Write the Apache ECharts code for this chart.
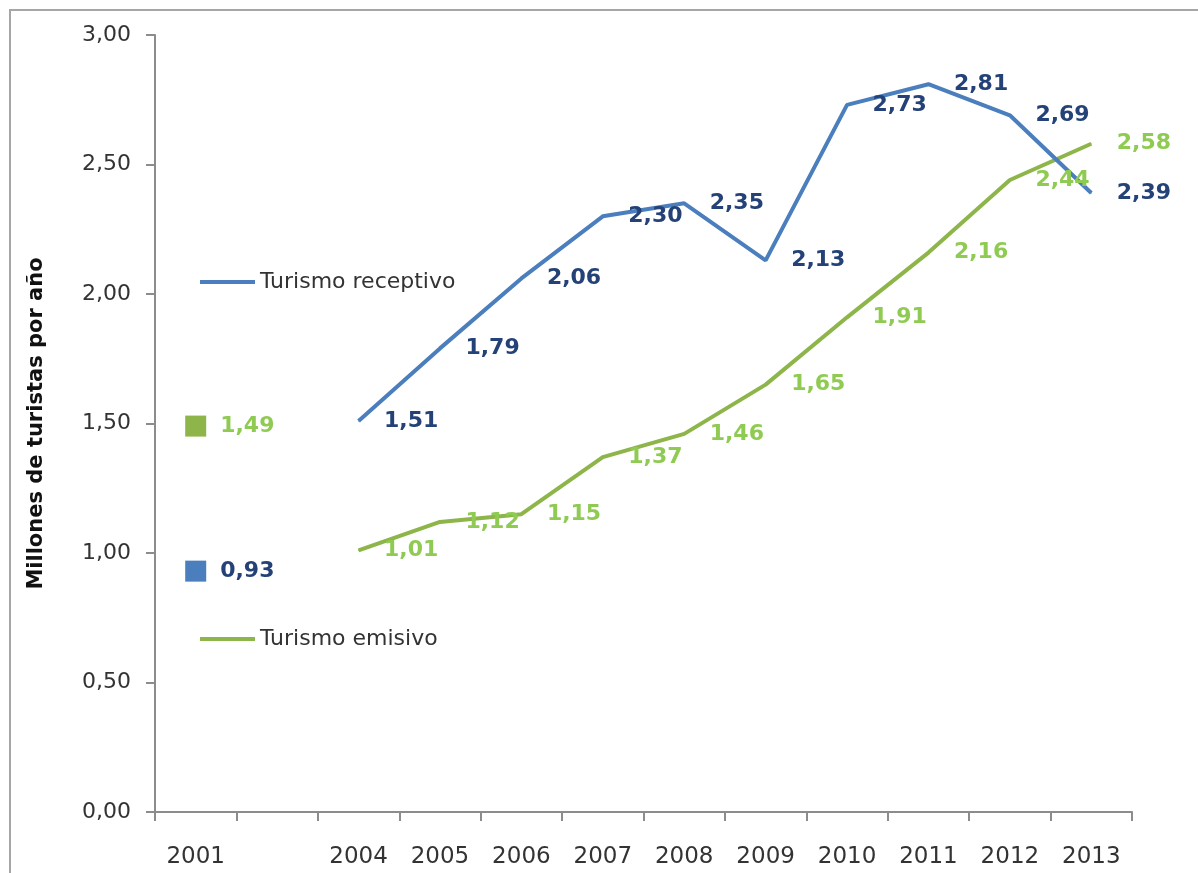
<!DOCTYPE html>
<html>
<head>
<meta charset="utf-8">
<script src="https://cdn.jsdelivr.net/npm/echarts@6/dist/echarts.min.js"></script>
<style>html,body{margin:0;padding:0;background:#fff}#c{width:1198px;height:873px}</style>
</head>
<body>
<div id="c"></div>
<script>
const categories = ['2001', '', '2004', '2005', '2006', '2007', '2008', '2009', '2010', '2011', '2012', '2013'];
const receptivo = [0.93, null, 1.51, 1.79, 2.06, 2.30, 2.35, 2.13, 2.73, 2.81, 2.69, 2.39];
const emisivo = [1.49, null, 1.01, 1.12, 1.15, 1.37, 1.46, 1.65, 1.91, 2.16, 2.44, 2.58];
const yTicks = { min: 0, max: 3, interval: 0.5 };
const seriesNames = ['Turismo receptivo', 'Turismo emisivo'];
const yName = 'Millones de turistas por año';

const FONT = "'DejaVu Sans', 'Open Sans', sans-serif";
const fmt = v => Number(v).toFixed(2).replace('.', ',');

function buildData(arr) {
  return arr.map((v, i) => {
    if (i === 0 && v != null) {
      return { value: v, symbol: 'rect', symbolSize: 21, label: { distance: 14 } };
    }
    return v;
  });
}

function makeSeries(name, arr, lineColor, labelColor) {
  return {
    name: name,
    type: 'line',
    data: buildData(arr),
    connectNulls: false,
    symbol: 'circle',
    symbolSize: 1,
    showSymbol: true,
    itemStyle: { color: lineColor },
    lineStyle: { color: lineColor, width: 4 },
    label: {
      show: true,
      position: 'right',
      distance: 25,
      color: labelColor,
      fontFamily: FONT,
      fontWeight: 'bold',
      fontSize: 22,
      formatter: p => fmt(p.value)
    },
    animation: false
  };
}

const chart = echarts.init(document.getElementById('c'));
chart.setOption({
  animation: false,
  graphic: [{
    type: 'rect',
    shape: { x: 10, y: 10, width: 1400, height: 1000 },
    style: { fill: 'none', stroke: '#a6a6a6', lineWidth: 2 },
    silent: true,
    z: -10
  }],
  grid: { left: 155, right: 66, top: 35, bottom: 61 },
  legend: [
    {
      data: [seriesNames[0]],
      left: 195, top: 266,
      icon: 'rect', itemWidth: 55, itemHeight: 4, itemGap: 5,
      textStyle: { fontFamily: FONT, fontSize: 22, color: '#333' },
      selectedMode: false
    },
    {
      data: [seriesNames[1]],
      left: 195, top: 623,
      icon: 'rect', itemWidth: 55, itemHeight: 4, itemGap: 5,
      textStyle: { fontFamily: FONT, fontSize: 22, color: '#333' },
      selectedMode: false
    }
  ],
  xAxis: {
    type: 'category',
    data: categories,
    boundaryGap: true,
    axisLine: { lineStyle: { color: '#8c8c8c', width: 2 } },
    axisTick: { show: true, length: 9, inside: false, lineStyle: { color: '#8c8c8c', width: 2 } },
    axisLabel: { interval: 0, fontFamily: FONT, fontSize: 23, color: '#333', margin: 34 },
    splitLine: { show: false }
  },
  yAxis: {
    type: 'value',
    min: yTicks.min, max: yTicks.max, interval: yTicks.interval,
    name: yName,
    nameLocation: 'middle',
    nameGap: 108,
    nameRotate: 90,
    nameTextStyle: { fontFamily: FONT, fontSize: 21, fontWeight: 'bold', color: '#111' },
    axisLine: { show: true, lineStyle: { color: '#8c8c8c', width: 2 } },
    axisTick: { show: true, length: 9, inside: false, lineStyle: { color: '#8c8c8c', width: 2 } },
    axisLabel: { fontFamily: FONT, fontSize: 22, color: '#333', margin: 24, formatter: v => fmt(v) },
    splitLine: { show: false }
  },
  series: [
    makeSeries(seriesNames[1], emisivo, '#8db54a', '#8fcb52'),
    makeSeries(seriesNames[0], receptivo, '#4a7ebd', '#244277')
  ]
});
</script>
</body>
</html>
